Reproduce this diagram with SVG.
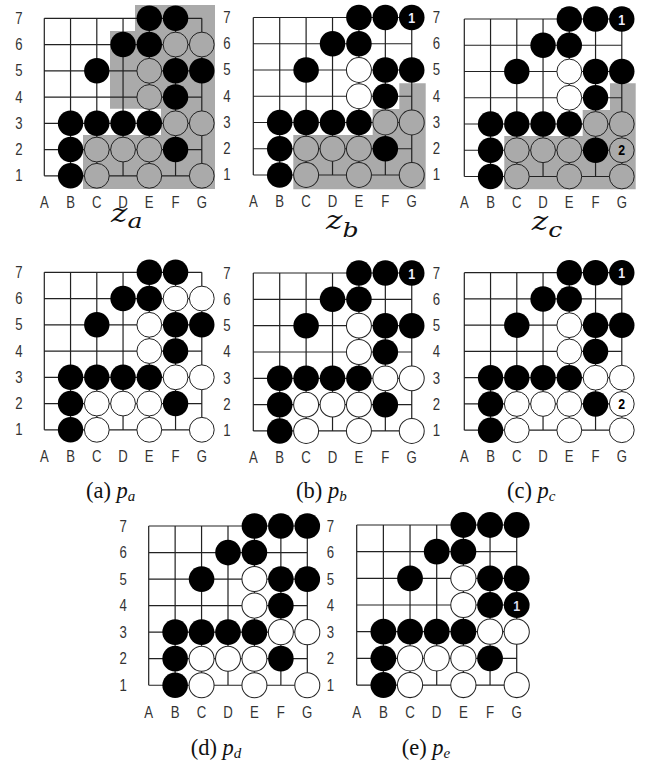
<svg xmlns="http://www.w3.org/2000/svg" width="646" height="766" viewBox="0 0 646 766">
<style>
.l{font-family:"Liberation Sans",sans-serif;font-size:16px;fill:#333;text-anchor:middle}
.n{font-family:"Liberation Sans",sans-serif;font-size:15px;font-weight:bold;text-anchor:middle}
.cap{font-family:"Liberation Serif",serif;font-size:22.5px;fill:#111}
.i{font-style:italic}
.s{font-style:italic;font-size:15px}
.z{font-family:"DejaVu Serif",serif;font-style:italic;font-size:26px;fill:#111}
.zs{font-size:21px}
.w{fill:#fff}
.y{fill:#aaa}
.sh{fill:#aaa}
.k{fill:#000}
</style>
<defs>
<g id="grid" fill="none" stroke="#222" stroke-width="1.2">
<path d="M0 0H157.5M0 26.25H157.5M0 52.5H157.5M0 78.75H157.5M0 105H157.5M0 131.25H157.5M0 157.5H157.5M0 0V157.5M26.25 0V157.5M52.5 0V157.5M78.75 0V157.5M105 0V157.5M131.25 0V157.5M157.5 0V157.5"/>
</g>
<circle id="st" r="12.7"/>
<circle id="op" r="12.4" stroke="#222" stroke-width="1"/>
<g id="blacks" class="k">
<use href="#st" x="105" y="0"/><use href="#st" x="131.25" y="0"/>
<use href="#st" x="78.75" y="26.25"/><use href="#st" x="105" y="26.25"/>
<use href="#st" x="52.5" y="52.5"/><use href="#st" x="131.25" y="52.5"/><use href="#st" x="157.5" y="52.5"/>
<use href="#st" x="131.25" y="78.75"/>
<use href="#st" x="26.25" y="105"/><use href="#st" x="52.5" y="105"/><use href="#st" x="78.75" y="105"/><use href="#st" x="105" y="105"/>
<use href="#st" x="26.25" y="131.25"/><use href="#st" x="131.25" y="131.25"/>
<use href="#st" x="26.25" y="157.5"/>
</g>
<g id="top"><use href="#op" x="131.25" y="26.25"/><use href="#op" x="157.5" y="26.25"/></g>
<g id="mid"><use href="#op" x="105" y="52.5"/><use href="#op" x="105" y="78.75"/></g>
<g id="low"><use href="#op" x="131.25" y="105"/><use href="#op" x="157.5" y="105"/><use href="#op" x="52.5" y="131.25"/><use href="#op" x="78.75" y="131.25"/><use href="#op" x="105" y="131.25"/><use href="#op" x="52.5" y="157.5"/><use href="#op" x="105" y="157.5"/><use href="#op" x="157.5" y="157.5"/></g>
</defs>

<g id="shades">
<path class="sh" d="M135 5H215V189H83V135H161V108.7H110V31H135Z"/>
<path class="sh" d="M399.3 83.3H425.7V189.3H293.3V135H372.7V109H399.3Z"/>
<path class="sh" d="M610 83.3H635.7V189.3H504.3V136H582.7V110H610Z"/>
</g>

<g id="za" transform="translate(44.3 18.3)">
<use href="#grid"/><use href="#blacks"/><use href="#top" class="y"/><use href="#mid" class="y"/><use href="#low" class="y"/>
<g class="l" transform="scale(.82 1)"><text x="-31" y="5.5">7</text><text x="-31" y="31.75">6</text><text x="-31" y="58">5</text><text x="-31" y="84.25">4</text><text x="-31" y="110.5">3</text><text x="-31" y="136.75">2</text><text x="-31" y="163">1</text>
<text x="0" y="189.5">A</text><text x="32" y="189.5">B</text><text x="64" y="189.5">C</text><text x="96" y="189.5">D</text><text x="128" y="189.5">E</text><text x="160" y="189.5">F</text><text x="192" y="189.5">G</text></g>
</g>

<g id="zb" transform="translate(253.3 17.5) scale(1.006 1)">
<use href="#grid"/><use href="#blacks"/><use href="#mid" class="w"/><use href="#low" class="y"/>
<use href="#st" x="157.5" y="0" class="k"/>
<g transform="scale(.82 1)"><text class="n" x="192" y="5.5" fill="#eef">1</text></g>
<g class="l" transform="scale(.82 1)"><text x="-32" y="5.5">7</text><text x="-32" y="31.75">6</text><text x="-32" y="58">5</text><text x="-32" y="84.25">4</text><text x="-32" y="110.5">3</text><text x="-32" y="136.75">2</text><text x="-32" y="163">1</text>
<text x="222" y="5.5">7</text><text x="222" y="31.75">6</text><text x="222" y="58">5</text><text x="222" y="84.25">4</text><text x="222" y="110.5">3</text><text x="222" y="136.75">2</text><text x="222" y="163">1</text>
<text x="0" y="189.5">A</text><text x="32" y="189.5">B</text><text x="64" y="189.5">C</text><text x="96" y="189.5">D</text><text x="128" y="189.5">E</text><text x="160" y="189.5">F</text><text x="192" y="189.5">G</text></g>
</g>

<g id="zc" transform="translate(464.3 19)">
<use href="#grid"/><use href="#blacks"/><use href="#mid" class="w"/><use href="#low" class="y"/>
<use href="#st" x="157.5" y="0" class="k"/>
<use href="#op" x="157.5" y="131.25" class="y"/>
<g transform="scale(.82 1)"><text class="n" x="192" y="5.5" fill="#eef">1</text><text class="n" x="192" y="136.5" fill="#000">2</text></g>
<g class="l" transform="scale(.82 1)"><text x="0" y="189.5">A</text><text x="32" y="189.5">B</text><text x="64" y="189.5">C</text><text x="96" y="189.5">D</text><text x="128" y="189.5">E</text><text x="160" y="189.5">F</text><text x="192" y="189.5">G</text></g>
</g>

<g id="pa" transform="translate(44.3 272.3)">
<use href="#grid"/><use href="#blacks"/><use href="#top" class="w"/><use href="#mid" class="w"/><use href="#low" class="w"/>
<g class="l" transform="scale(.82 1)"><text x="-31" y="5.5">7</text><text x="-31" y="31.75">6</text><text x="-31" y="58">5</text><text x="-31" y="84.25">4</text><text x="-31" y="110.5">3</text><text x="-31" y="136.75">2</text><text x="-31" y="163">1</text>
<text x="0" y="189.5">A</text><text x="32" y="189.5">B</text><text x="64" y="189.5">C</text><text x="96" y="189.5">D</text><text x="128" y="189.5">E</text><text x="160" y="189.5">F</text><text x="192" y="189.5">G</text></g>
</g>

<g id="pb" transform="translate(253.3 273) scale(1.006 1.003)">
<use href="#grid"/><use href="#blacks"/><use href="#mid" class="w"/><use href="#low" class="w"/>
<use href="#st" x="157.5" y="0" class="k"/>
<g transform="scale(.82 1)"><text class="n" x="192" y="5.5" fill="#eef">1</text></g>
<g class="l" transform="scale(.82 1)"><text x="-32" y="5.5">7</text><text x="-32" y="31.75">6</text><text x="-32" y="58">5</text><text x="-32" y="84.25">4</text><text x="-32" y="110.5">3</text><text x="-32" y="136.75">2</text><text x="-32" y="163">1</text>
<text x="222" y="5.5">7</text><text x="222" y="31.75">6</text><text x="222" y="58">5</text><text x="222" y="84.25">4</text><text x="222" y="110.5">3</text><text x="222" y="136.75">2</text><text x="222" y="163">1</text>
<text x="0" y="189.5">A</text><text x="32" y="189.5">B</text><text x="64" y="189.5">C</text><text x="96" y="189.5">D</text><text x="128" y="189.5">E</text><text x="160" y="189.5">F</text><text x="192" y="189.5">G</text></g>
</g>

<g id="pc" transform="translate(464.3 272.7)">
<use href="#grid"/><use href="#blacks"/><use href="#mid" class="w"/><use href="#low" class="w"/>
<use href="#st" x="157.5" y="0" class="k"/>
<use href="#op" x="157.5" y="131.25" class="w"/>
<g transform="scale(.82 1)"><text class="n" x="192" y="5.5" fill="#eef">1</text><text class="n" x="192" y="136.5" fill="#000">2</text></g>
<g class="l" transform="scale(.82 1)"><text x="0" y="189.5">A</text><text x="32" y="189.5">B</text><text x="64" y="189.5">C</text><text x="96" y="189.5">D</text><text x="128" y="189.5">E</text><text x="160" y="189.5">F</text><text x="192" y="189.5">G</text></g>
</g>

<g id="pd" transform="translate(148.7 526) scale(1.007 1.011)">
<use href="#grid"/><use href="#blacks"/><use href="#mid" class="w"/><use href="#low" class="w"/>
<use href="#st" x="157.5" y="0" class="k"/>
<g class="l" transform="scale(.82 1)"><text x="220" y="5.5">7</text><text x="220" y="31.75">6</text><text x="220" y="58">5</text><text x="220" y="84.25">4</text><text x="220" y="110.5">3</text><text x="220" y="136.75">2</text><text x="220" y="163">1</text>
<text x="-31" y="5.5">7</text><text x="-31" y="31.75">6</text><text x="-31" y="58">5</text><text x="-31" y="84.25">4</text><text x="-31" y="110.5">3</text><text x="-31" y="136.75">2</text><text x="-31" y="163">1</text>
<text x="0" y="189.5">A</text><text x="32" y="189.5">B</text><text x="64" y="189.5">C</text><text x="96" y="189.5">D</text><text x="128" y="189.5">E</text><text x="160" y="189.5">F</text><text x="192" y="189.5">G</text></g>
</g>

<g id="pe" transform="translate(356.7 525) scale(1.016 1.016)">
<use href="#grid"/><use href="#blacks"/><use href="#mid" class="w"/><use href="#low" class="w"/>
<use href="#st" x="157.5" y="0" class="k"/>
<use href="#st" x="157.5" y="78.75" class="k"/>
<g transform="scale(.82 1)"><text class="n" x="192" y="84.25" fill="#dde">1</text></g>
<g class="l" transform="scale(.82 1)"><text x="0" y="189.5">A</text><text x="32" y="189.5">B</text><text x="64" y="189.5">C</text><text x="96" y="189.5">D</text><text x="128" y="189.5">E</text><text x="160" y="189.5">F</text><text x="192" y="189.5">G</text></g>
</g>

<g id="captions">
<text class="z" transform="translate(111 222) scale(1.2 1)">z<tspan class="zs" dy="6">a</tspan></text>
<text class="z" transform="translate(326 229) scale(1.2 1)">z<tspan class="zs" dy="8">b</tspan></text>
<text class="z" transform="translate(531.7 230) scale(1.2 1)">z<tspan class="zs" dy="7">c</tspan></text>
<text class="cap" x="86" y="498">(a) <tspan class="i">p</tspan><tspan class="s" dy="3">a</tspan></text>
<text class="cap" x="296" y="498">(b) <tspan class="i">p</tspan><tspan class="s" dy="3">b</tspan></text>
<text class="cap" x="507" y="498">(c) <tspan class="i">p</tspan><tspan class="s" dy="3">c</tspan></text>
<text class="cap" x="190.7" y="755">(d) <tspan class="i">p</tspan><tspan class="s" dy="3">d</tspan></text>
<text class="cap" x="401.7" y="755">(e) <tspan class="i">p</tspan><tspan class="s" dy="3">e</tspan></text>
</g>
</svg>
